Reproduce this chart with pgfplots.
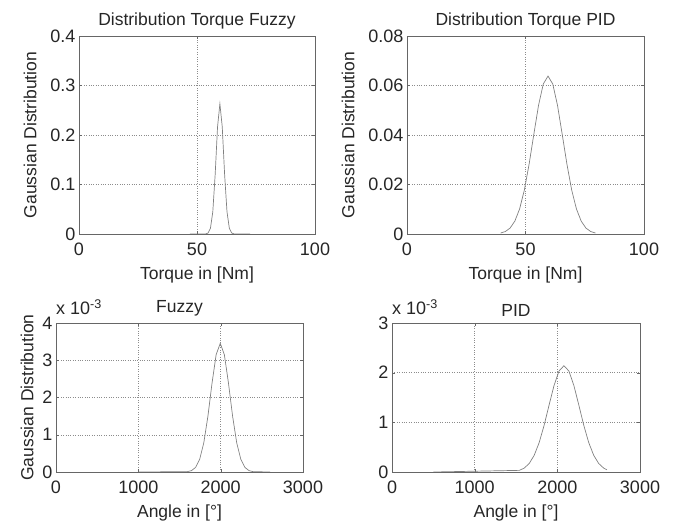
\documentclass[border=0pt]{standalone}
\usepackage{fontspec}
\setmainfont{Liberation Sans}
\usepackage{pgfplots}
\pgfplotsset{compat=1.18}
\begin{document}
\begin{tikzpicture}
\path[use as bounding box] (0bp,0bp) rectangle (673bp,527bp);
\pgfplotsset{
 mystyle/.style={
  scale only axis, anchor=south west,
  font=\fontsize{17.5bp}{20bp}\selectfont,
  /pgf/number format/assume math mode=true,
  /pgf/number format/set thousands separator={},
  text=black!85,
  axis line style={black!60},
  tick style={black!60},
  major tick length=3bp,
  tick align=inside,
  grid=major,
  grid style={dotted, black!45},
  ticklabel style={font=\fontsize{18bp}{20bp}\selectfont},
  xticklabel style={yshift=-5bp},
  xlabel style={yshift=-5bp},
  title style={yshift=-3bp},
 },
 curve/.style={black!50, line width=0.7pt, mark=none},
}
% top-left
\begin{axis}[mystyle, at={(79bp,293bp)}, width=236bp, height=198bp,
  xmin=0, xmax=100, ymin=0, ymax=0.4,
  xtick={0,50,100}, ytick={0,0.1,0.2,0.3,0.4},
  scaled y ticks=false, yticklabel style={/pgf/number format/fixed},
  title={Distribution Torque Fuzzy},
  xlabel={Torque in [Nm]}, ylabel={Gaussian Distribution},
  ylabel style={yshift=7bp}]
\addplot[curve] coordinates {
(47,0) (53.7,0.0002) (54.7,0.0020) (55.7,0.0116) (56.7,0.0453) (57.7,0.1204)
(58.7,0.2163) (59.7,0.263) (60.7,0.2163) (61.7,0.1204) (62.7,0.0453)
(63.7,0.0116) (64.7,0.0020) (65.7,0.0002) (72.5,0)};
\end{axis}
% top-right
\begin{axis}[mystyle, at={(407bp,293bp)}, width=237bp, height=198bp,
  xmin=0, xmax=100, ymin=0, ymax=0.08,
  xtick={0,50,100}, ytick={0,0.02,0.04,0.06,0.08},
  scaled y ticks=false, yticklabel style={/pgf/number format/fixed, /pgf/number format/precision=2},
  title={Distribution Torque PID},
  xlabel={Torque in [Nm]}, ylabel={Gaussian Distribution},
  ylabel style={yshift=7bp}]
\addplot[curve] coordinates {
(39.5,0.0004) (41.5,0.0010) (43.5,0.0024) (45.5,0.0052) (47.5,0.0101)
(49.5,0.0177) (51.5,0.0281) (53.5,0.0402) (55.5,0.0520) (57.5,0.0606)
(59.5,0.0638) (61.5,0.0606) (63.5,0.0520) (65.5,0.0402) (67.5,0.0281)
(69.5,0.0177) (71.5,0.0101) (73.5,0.0052) (75.5,0.0024) (77.5,0.0010)
(79.5,0.0004)};
\end{axis}
% bottom-left
\begin{axis}[mystyle, at={(56bp,55bp)}, width=247bp, height=149bp,
  xmin=0, xmax=3000, ymin=0, ymax=0.004,
  xtick={0,1000,2000,3000}, ytick={0,0.001,0.002,0.003,0.004},
  scaled x ticks=false,
  scaled y ticks=base 10:3,
  ytick scale label code/.code={x 10\textsuperscript{#1}},
  every y tick scale label/.style={at={(rel axis cs:0,1)}, anchor=south west, inner sep=0pt, yshift=8bp},
  title={Fuzzy},
  xlabel={Angle in [°]}, ylabel={Gaussian Distribution},
  ylabel style={yshift=2bp}]
\addplot[curve] coordinates {
(1000,0) (1595,0.000009) (1645,0.000036) (1695,0.000122) (1745,0.000339)
(1795,0.000782) (1845,0.001497) (1895,0.002383) (1945,0.003149) (1995,0.003455)
(2045,0.003149) (2095,0.002383) (2145,0.001497) (2195,0.000782) (2245,0.000339)
(2295,0.000122) (2345,0.000036) (2395,0.000009) (2600,0)};
\end{axis}
% bottom-right
\begin{axis}[mystyle, at={(392bp,55bp)}, width=248bp, height=149bp,
  xmin=0, xmax=3000, ymin=0, ymax=0.003,
  xtick={0,1000,2000,3000}, ytick={0,0.001,0.002,0.003},
  scaled x ticks=false,
  scaled y ticks=base 10:3,
  ytick scale label code/.code={x 10\textsuperscript{#1}},
  every y tick scale label/.style={at={(rel axis cs:0,1)}, anchor=south west, inner sep=0pt, yshift=8bp},
  title={PID},
  xlabel={Angle in [°]}]
\addplot[curve] coordinates {
(500,0) (1540,0.000033) (1600,0.000079) (1660,0.000172) (1720,0.000336)
(1780,0.000591) (1840,0.000939) (1900,0.001347) (1960,0.001742) (2020,0.002033)
(2080,0.002140) (2140,0.002033) (2200,0.001742) (2260,0.001347) (2320,0.000939)
(2380,0.000591) (2440,0.000336) (2500,0.000172) (2560,0.000079) (2600,0.000045)};
\end{axis}
\end{tikzpicture}
\end{document}
